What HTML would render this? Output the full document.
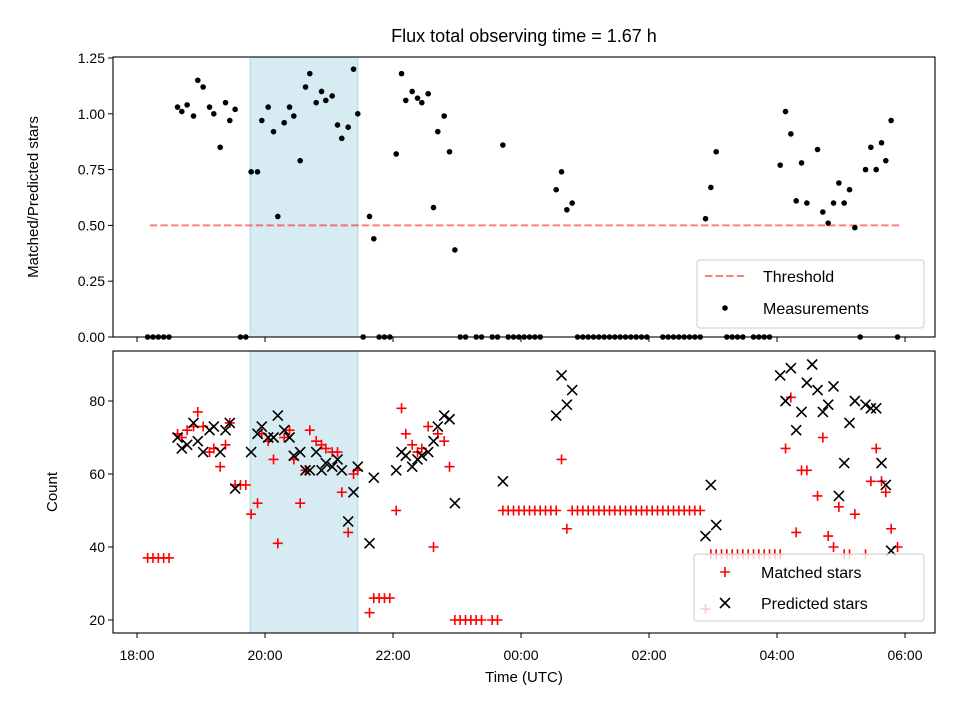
<!DOCTYPE html>
<html><head><meta charset="utf-8"><style>
body{margin:0;background:#fff;}
svg{font-family:"Liberation Sans","DejaVu Sans",sans-serif;}
</style></head><body>
<svg id="c" width="960" height="720" viewBox="0 0 960 720" xmlns="http://www.w3.org/2000/svg"></svg>
<script>
// ---- data (minutes after 18:00) ----
const ratioTimes=[10,15,20,25,30,38,42,47,53,57,62,68,72,78,83,87,92,97,102,107,113,117,123,128,132,138,143,147,153,158,162,168,173,177,183,188,192,198,203,207,212,218,222,227,232,237,243,248,252,258,263,267,273,278,282,288,293,298,303,308,318,323,333,338,343,348,353,358,363,368,373,378,393,398,403,408,413,418,423,428,433,438,443,448,453,458,463,468,473,478,493,498,503,508,513,518,523,528,533,538,543,553,558,563,568,578,583,588,593,603,608,613,618,623,628,638,643,648,653,658,663,668,673,678,683,688,693,698,702,707,713];
const ratioValues=[0,0,0,0,0,1.03,1.01,1.04,0.99,1.15,1.12,1.03,1.00,0.85,1.05,0.97,1.02,0,0,0.74,0.74,0.97,1.03,0.92,0.54,0.96,1.03,0.99,0.79,1.12,1.18,1.05,1.10,1.06,1.08,0.95,0.89,0.94,1.20,1.00,0,0.54,0.44,0,0,0,0.82,1.18,1.06,1.10,1.07,1.05,1.09,0.58,0.92,0.99,0.83,0.39,0,0,0,0,0,0,0.86,0,0,0,0,0,0,0,0.66,0.74,0.57,0.60,0,0,0,0,0,0,0,0,0,0,0,0,0,0,0,0,0,0,0,0,0,0,0.53,0.67,0.83,0,0,0,0,0,0,0,0,0.77,1.01,0.91,0.61,0.78,0.60,0.84,0.56,0.51,0.60,0.69,0.60,0.66,0.49,0,0.75,0.85,0.75,0.87,0.79,0.97,0];
const matchedTimes=[10,15,20,25,30,38,42,47,53,57,62,68,72,78,83,87,92,97,102,107,113,117,123,128,132,138,143,147,153,158,162,168,173,177,183,188,192,198,203,207,218,222,227,232,237,243,248,252,258,263,267,273,278,282,288,293,298,303,308,313,318,323,333,338,343,348,353,358,363,368,373,378,383,388,393,398,403,408,413,418,423,428,433,438,443,448,453,458,463,468,473,478,483,488,493,498,503,508,513,518,523,528,533,538,543,548,553,558,563,568,573,578,583,588,593,598,603,608,613,618,623,628,638,643,648,653,658,663,668,673,683,688,693,698,702,707,713];
const matchedValues=[37,37,37,37,37,71,70,72,73,77,73,66,67,62,68,74,57,57,57,49,52,71,69,64,41,70,72,64,52,61,72,69,68,67,66,66,55,44,60,61,22,26,26,26,26,50,78,71,68,66,67,73,40,71,69,62,20,20,20,20,20,20,20,20,50,50,50,50,50,50,50,50,50,50,50,64,45,50,50,50,50,50,50,50,50,50,50,50,50,50,50,50,50,50,50,50,50,50,50,50,50,50,23,38,38,38,38,38,38,38,38,38,38,38,38,38,38,67,81,44,61,61,54,70,43,40,51,38,38,49,38,58,67,58,55,45,40,38];
const predTimes=[38,42,47,53,57,62,68,72,78,83,87,92,107,113,117,123,128,132,138,143,147,153,158,162,168,173,177,183,188,192,198,203,207,218,222,243,248,252,258,263,267,273,278,282,288,293,298,343,393,398,403,408,533,538,543,603,608,613,618,623,628,633,638,643,648,653,658,663,668,673,683,688,693,698,702,707];
const predValues=[70,67,68,74,69,66,72,73,66,72,74,56,66,71,73,70,70,76,72,70,65,66,61,61,66,61,63,62,64,61,47,55,62,41,59,61,66,65,62,64,65,66,69,73,76,75,52,58,76,87,79,83,43,57,46,87,80,89,72,77,85,90,83,77,79,84,54,63,74,80,79,78,78,63,57,39];
const xTickMin=[0,120,240,360,480,600,720];
const xTickLabels=["18:00","20:00","22:00","00:00","02:00","04:00","06:00"];
const topTicks=[0,0.25,0.5,0.75,1.0,1.25];
const botTicks=[20,40,60,80];
const threshold=0.5;
const shade=[106,207];

const NS="http://www.w3.org/2000/svg";
const svg=document.getElementById('c');
function el(t,a,p){const e=document.createElementNS(NS,t);for(const k in a)e.setAttribute(k,a[k]);(p||svg).appendChild(e);return e;}
const X=m=>137+m*64/60;
const L=113,R=935;
const Yt=v=>337-v*223.2;
const Yb=v=>620-(v-20)*3.65;

const ti=el('text',{x:524,y:42,'text-anchor':'middle','font-size':18});ti.textContent="Flux total observing time = 1.67 h";


function panel(top,bot,name){
  const g=el('g',{});
  
  const sh=el('rect',{x:X(shade[0]),y:top,width:X(shade[1])-X(shade[0]),height:bot-top,fill:'#add8e6','fill-opacity':0.5,stroke:'#add8e6'},g);
  
  xTickMin.forEach((m,i)=>{el('line',{x1:X(m),x2:X(m),y1:bot,y2:bot+5,stroke:'#000','stroke-width':1},g);});
  return g;
}
function frame(g,top,bot){el('rect',{x:L,y:top,width:R-L,height:bot-top,fill:'none',stroke:'#000','stroke-width':1.1},g);}

const gt=panel(57,337,'ratio-panel');
topTicks.forEach(v=>{el('line',{x1:L-5,x2:L,y1:Yt(v),y2:Yt(v),stroke:'#000'},gt);
  const t=el('text',{x:L-8,y:Yt(v)+5,'text-anchor':'end','font-size':14},gt);t.textContent=v.toFixed(2);
  });
const th=el('line',{x1:X(12),x2:X(715),y1:Yt(threshold),y2:Yt(threshold),stroke:'#ff0000','stroke-opacity':0.5,'stroke-width':2,'stroke-dasharray':'7.4,3.2'},gt);

ratioTimes.forEach((m,i)=>{const c=el('circle',{cx:X(m),cy:Yt(ratioValues[i]),r:2.8,fill:'#000'},gt);
  });
frame(gt,57,337);
const yl1=el('text',{x:38,y:197,'text-anchor':'middle','font-size':15,transform:'rotate(-90 38 197)'});yl1.textContent="Matched/Predicted stars";

const lg1=el('g',{});
el('rect',{x:697,y:260,width:227,height:68,rx:3,fill:'#fff','fill-opacity':0.8,stroke:'#ccc'},lg1);
el('line',{x1:705,x2:746,y1:276,y2:276,stroke:'#ff0000','stroke-opacity':0.5,'stroke-width':2,'stroke-dasharray':'7.4,3.2'},lg1);
let t=el('text',{x:763,y:282,'font-size':16},lg1);t.textContent="Threshold";
el('circle',{cx:725,cy:308,r:2.8,fill:'#000'},lg1);
t=el('text',{x:763,y:314,'font-size':16},lg1);t.textContent="Measurements";

const gb=panel(351,633,'count-panel');
botTicks.forEach(v=>{el('line',{x1:L-5,x2:L,y1:Yb(v),y2:Yb(v),stroke:'#000'},gb);
  const t=el('text',{x:L-8,y:Yb(v)+5,'text-anchor':'end','font-size':14},gb);t.textContent=v;
  });
xTickMin.forEach((m,i)=>{const t=el('text',{x:X(m),y:660,'text-anchor':'middle','font-size':14},gb);t.textContent=xTickLabels[i];
  });
function plus(g,x,y,s){el('path',{d:`M${x-s} ${y}H${x+s}M${x} ${y-s}V${y+s}`,stroke:'#ff0000','stroke-width':1.6,fill:'none'},g);}
function cross(g,x,y,s){el('path',{d:`M${x-s} ${y-s}L${x+s} ${y+s}M${x-s} ${y+s}L${x+s} ${y-s}`,stroke:'#000','stroke-width':1.6,fill:'none'},g);}
matchedTimes.forEach((m,i)=>{const g=el('g',{},gb);plus(g,X(m),Yb(matchedValues[i]),5);});
predTimes.forEach((m,i)=>{const g=el('g',{},gb);cross(g,X(m),Yb(predValues[i]),5);});
frame(gb,351,633);
const yl2=el('text',{x:57,y:492,'text-anchor':'middle','font-size':15,transform:'rotate(-90 57 492)'});yl2.textContent="Count";

const xl=el('text',{x:524,y:682,'text-anchor':'middle','font-size':15});xl.textContent="Time (UTC)";

const lg2=el('g',{});
el('rect',{x:694,y:554,width:230,height:67,rx:3,fill:'#fff','fill-opacity':0.8,stroke:'#ccc'},lg2);
plus(lg2,725,572,5);
t=el('text',{x:761,y:578,'font-size':16},lg2);t.textContent="Matched stars";
cross(lg2,725,603,5);
t=el('text',{x:761,y:609,'font-size':16},lg2);t.textContent="Predicted stars";
</script>
</body></html>
